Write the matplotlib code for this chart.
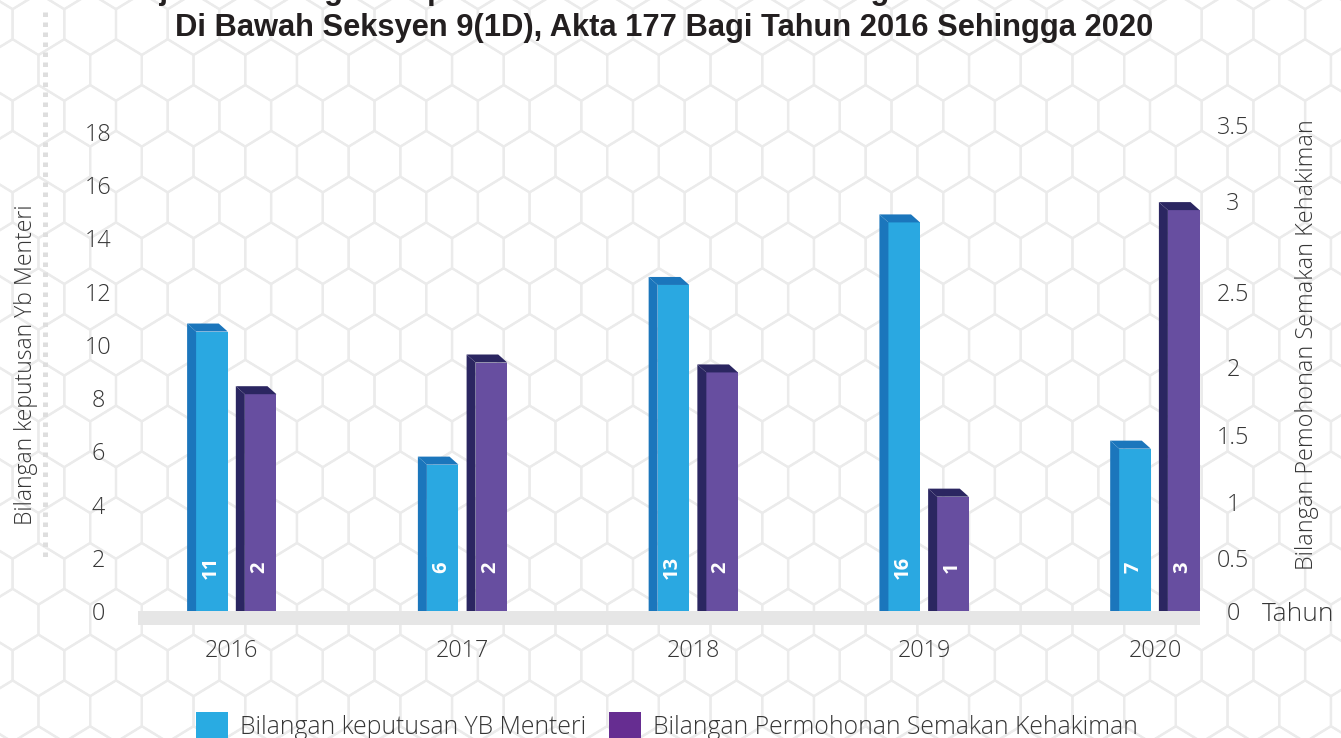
import numpy as np
import matplotlib
matplotlib.use("Agg")
import matplotlib.pyplot as plt
from matplotlib.patches import Polygon, Patch, Rectangle
from matplotlib.collections import PolyCollection

years = ["2016", "2017", "2018", "2019", "2020"]
# bar heights as they are drawn (left scale: YB Menteri, right scale: semakan kehakiman)
menteri_height = [10.5, 5.5, 12.25, 14.6, 6.1]
semakan_height = [1.8, 2.03, 1.96, 1.04, 2.95]
# numbers printed inside the bars
menteri_count = [11, 6, 13, 16, 7]
semakan_count = [2, 2, 2, 1, 3]
left_ticks = list(range(0, 19, 2))
right_ticks = [0, 0.5, 1, 1.5, 2, 2.5, 3, 3.5]

# the right-hand axis in the original is not evenly spaced:
# pixel height above the floor of each right tick
RIGHT_TICK_PX = [0, 53, 109, 176, 244, 319, 410, 486]

BLUE, BLUE_DARK = "#2aa8e1", "#1b76bc"
PURPLE, PURPLE_DARK = "#674ea0", "#2b2661"
TXT = "#363636"

plt.rcParams["font.family"] = ["Open Sans", "DejaVu Sans"]

W, H = 1341, 738
fig = plt.figure(figsize=(W / 100, H / 100), dpi=100)

# ---------- honeycomb background ----------
bg = fig.add_axes([0, 0, 1, 1], zorder=-10)
bg.set_xlim(0, W)
bg.set_ylim(H, 0)
bg.axis("off")
hw, e, tip = 25.85, 15.0, 15.8
hexes = []
for k in range(-3, 18):
    cy = 70 + k * (2 * e + tip)
    shift = 0 if k % 2 == 0 else -hw
    for j in range(-10, 22):
        cx = 374.5 + shift + j * 2 * hw
        hexes.append([(cx, cy - e - tip), (cx + hw, cy - e), (cx + hw, cy + e),
                      (cx, cy + e + tip), (cx - hw, cy + e), (cx - hw, cy - e)])
bg.add_collection(PolyCollection(hexes, facecolors="none", edgecolors="#ebebeb", linewidths=1.6))
bg.plot([45, 45], [12, 560], color="#dedede", lw=3.6, linestyle=(0, (0.9, 1.1)),
        dash_capstyle="butt")

# ---------- title (first line is cut off at the top) ----------
fig.text(120 / W, 1 + 1.0 / H,
         "Rajah 3: Bilangan Keputusan YB Menteri Berhubung Permohonan Semakan Kehakiman",
         ha="left", va="baseline", fontsize=22.2, fontweight="bold",
         family="Liberation Sans", color="#231f20")
fig.text(664.5 / W, 1 - 36 / H,
         "Di Bawah Seksyen 9(1D), Akta 177 Bagi Tahun 2016 Sehingga 2020",
         ha="center", va="baseline", fontsize=22.2, fontweight="bold",
         family="Liberation Sans", color="#231f20")

# ---------- axes ----------
ax = fig.add_axes([138 / W, (H - 611) / H, (1200 - 138) / W, (611 - 125) / H])
ax.patch.set_alpha(0)
ax2 = ax.twinx()
xs = np.arange(len(years))
ax.set_xlim(-0.407, 4.195)
ax.set_ylim(0, 18.26)

knots_u = np.array(RIGHT_TICK_PX, dtype=float)
knots_v = np.array(right_ticks, dtype=float)
ax2.set_yscale("function", functions=(lambda v: np.interp(v, knots_v, knots_u),
                                      lambda u: np.interp(u, knots_u, knots_v)))
ax2.set_ylim(0, 3.5)


def bar3d(axis, x, heights, counts, front, shade, width=0.137, dx=9, dy=8):
    bars = axis.bar(x, heights, width=width, color=front, zorder=3)
    to_data = axis.transData.inverted()
    for b, n in zip(bars, counts):
        x0, y0 = axis.transData.transform((b.get_x(), 0))
        x1, y1 = axis.transData.transform((b.get_x() + b.get_width(), b.get_height()))
        side = [(x0 - dx, y0), (x0, y0), (x0, y1), (x0 - dx, y1 + dy)]
        top = [(x0, y1), (x1, y1), (x1 - dx, y1 + dy), (x0 - dx, y1 + dy)]
        for pts in (side, top):
            axis.add_patch(Polygon(to_data.transform(pts), closed=True,
                                   facecolor=shade, lw=0, zorder=3))
        axis.annotate(str(n), (b.get_x() + b.get_width() / 2, 0), xytext=(-1, 31.7),
                      textcoords="offset points", rotation=90, ha="center", va="center",
                      color="white", fontweight="bold", fontsize=14.5, zorder=4)
    return bars


bar3d(ax, xs - 0.0867, menteri_height, menteri_count, BLUE, BLUE_DARK)
bar3d(ax2, xs + 0.1244, semakan_height, semakan_count, PURPLE, PURPLE_DARK)

# grey floor under the bars
fig.add_artist(Rectangle((138 / W, (H - 625) / H), (1200 - 138) / W, 14 / H,
                         transform=fig.transFigure, facecolor="#e6e6e6", lw=0))

ax.set_xticks(xs, years)
ax.set_yticks(left_ticks)
ax2.set_yticks(right_ticks, [f"{t:g}" for t in right_ticks])
ax2.minorticks_off()
ax.tick_params(axis="x", length=0, pad=20, labelsize=16.8, labelcolor=TXT)
ax.tick_params(axis="y", length=0, pad=28.8, labelsize=16.8, labelcolor=TXT)
ax2.tick_params(axis="y", length=0, pad=23.8, labelsize=16.8, labelcolor=TXT)
for a in (ax, ax2):
    for s in a.spines.values():
        s.set_visible(False)
    for lbl in a.get_xticklabels() + a.get_yticklabels():
        lbl.set_fontweight("light")
for lbl in ax.get_yticklabels() + ax2.get_yticklabels():
    lbl.set_ha("center")

ax.set_ylabel("Bilangan keputusan Yb Menteri", fontsize=16.6, color=TXT, fontweight="light")
ax.yaxis.set_label_coords(-0.1055, 0.506)
ax.yaxis.label.set_va("center")
ax2.set_ylabel("Bilangan Pemohonan Semakan Kehakiman", fontsize=16.8, color=TXT,
               fontweight="light")
ax2.yaxis.set_label_coords(1.1007, 0.549)
ax2.yaxis.label.set_va("center")
ax.set_xlabel("Tahun", fontsize=19, color=TXT, fontweight="light")
ax.xaxis.set_label_coords(1.0584, -0.008)
ax.xaxis.label.set_ha("left")
ax.xaxis.label.set_va("center")

leg = fig.legend(handles=[Patch(facecolor="#29abe2"), Patch(facecolor="#662d91")],
                 labels=["Bilangan keputusan YB Menteri", "Bilangan Permohonan Semakan Kehakiman"],
                 loc="upper left", bbox_to_anchor=(196 / W, (H - 712) / H), ncol=2,
                 frameon=False, fontsize=17.8, handlelength=1.3, handleheight=1.3,
                 handletextpad=0.5, columnspacing=0.9, borderpad=0, borderaxespad=0)
for t in leg.get_texts():
    t.set_color(TXT)
    t.set_fontweight("light")

fig.savefig("out.png", dpi=100)
